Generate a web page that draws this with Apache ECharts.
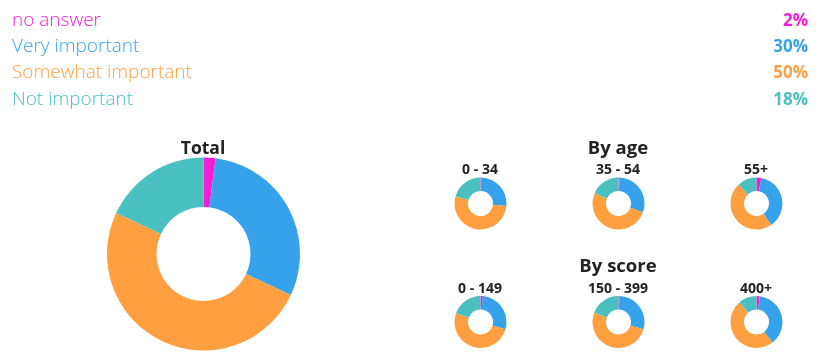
<!DOCTYPE html>
<html><head><meta charset="utf-8">
<script src="https://cdn.jsdelivr.net/npm/echarts@6/dist/echarts.min.js"></script>
<style>html,body{margin:0;padding:0;background:#fff}#c{width:820px;height:364px}</style>
</head><body><div id="c"></div>
<script>
const categories = ['no answer', 'Very important', 'Somewhat important', 'Not important'];
const colors = ['#f61cd6', '#36a2eb', '#ff9f40', '#4bc0c0'];
const totalValues = [2, 30, 50, 18];
const ageGroups = ['0 - 34', '35 - 54', '55+'];
const ageValues = [[0.5, 26, 53, 20.5], [0.5, 30, 51, 18.5], [3, 37.5, 47.5, 12]];
const scoreGroups = ['0 - 149', '150 - 399', '400+'];
const scoreValues = [[1.5, 28, 51, 19.5], [0.5, 29, 51.5, 19], [2, 37.5, 49, 11.5]];

const FONT = '"Open Sans", sans-serif';
const chart = echarts.init(document.getElementById('c'), null, {renderer: 'canvas'});

const titles = [];
const rowY = [21, 47, 73, 100];
categories.forEach((name, i) => {
  titles.push({text: name, left: 12, top: rowY[i] - 12, padding: 0,
    textStyle: {color: colors[i], fontFamily: FONT, fontWeight: 300, fontSize: 19, lineHeight: 24}});
  titles.push({text: totalValues[i] + '%', right: 12, top: rowY[i] - 11, padding: 0,
    textStyle: {color: colors[i], fontFamily: FONT, fontWeight: 700, fontSize: 17, lineHeight: 22}});
});
function heading(text, x, y, size) {
  titles.push({text: text, left: x, top: y - size * 0.55, padding: 0, textAlign: 'center',
    textStyle: {color: '#222', fontFamily: FONT, fontWeight: 700, fontSize: size, lineHeight: Math.round(size * 1.3)}});
}
heading('Total', 203, 147, 17.5);
heading('By age', 618, 147, 18.5);
heading('By score', 618, 265, 18.5);
const colX = [480, 618, 756];
ageGroups.forEach((g, i) => heading(g, colX[i], 169, 14));
scoreGroups.forEach((g, i) => heading(g, colX[i], 288, 14));

function pie(values, center, radius) {
  return {type: 'pie', center: center, radius: radius, startAngle: 90, clockwise: true,
    silent: true, label: {show: false}, labelLine: {show: false}, animation: false,
    itemStyle: {borderWidth: 0},
    data: values.map((v, i) => ({name: categories[i], value: v, itemStyle: {color: colors[i]}}))};
}
const series = [pie(totalValues, [203.5, 254], [47, 96.5])];
ageValues.forEach((vals, i) => series.push(pie(vals, [colX[i] + 0.5, 203.5], [12.5, 26])));
scoreValues.forEach((vals, i) => series.push(pie(vals, [colX[i] + 0.5, 322], [12.5, 26])));

chart.setOption({animation: false, backgroundColor: '#fff', title: titles, series: series});
</script></body></html>
